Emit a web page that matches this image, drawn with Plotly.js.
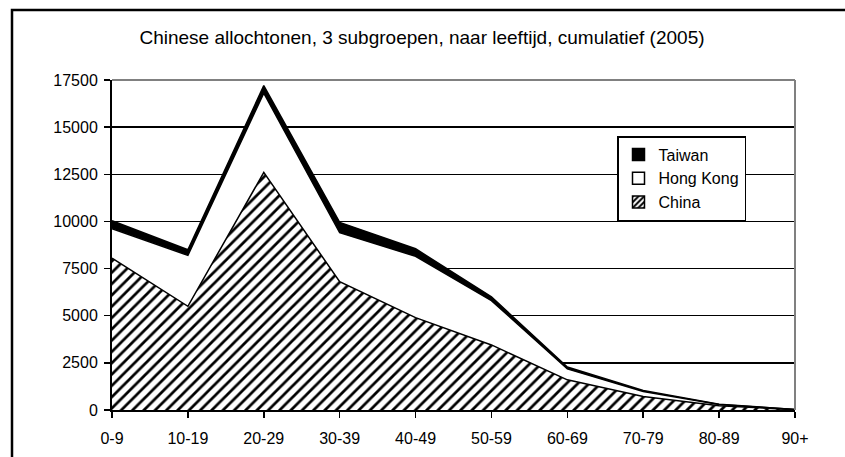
<!DOCTYPE html>
<html>
<head>
<meta charset="utf-8">
<script src="https://cdn.plot.ly/plotly-3.0.1.min.js"></script>
<style>html,body{margin:0;padding:0;background:#fff;}#chart{width:845px;height:457px;}</style>
</head>
<body>
<div id="chart"></div>
<script>
var categories = ["0-9","10-19","20-29","30-39","40-49","50-59","60-69","70-79","80-89","90+"];
var china    = [8050, 5500, 12600, 6800, 4900, 3450, 1600, 720, 230, 15];
var hongKong = [1570, 2700, 4200, 2600, 3250, 2350, 580, 260, 60, 10];
var taiwan   = [420, 300, 400, 550, 400, 200, 100, 60, 20, 5];
var yTicks = [0, 2500, 5000, 7500, 10000, 12500, 15000, 17500];
var titleText = "Chinese allochtonen, 3 subgroepen, naar leeftijd, cumulatief (2005)";

var FONT = "Liberation Sans, Arial, sans-serif";
var hatch = {shape: "/", fgcolor: "#000", bgcolor: "#fff", size: 8, solidity: 0.34};

var traces = [
  {x: categories, y: china, name: "China", type: "scatter", mode: "lines", stackgroup: "one",
   line: {color: "#000", width: 1.5}, fillcolor: "#fff", fillpattern: hatch, showlegend: false, hoverinfo: "skip"},
  {x: categories, y: hongKong, name: "Hong Kong", type: "scatter", mode: "lines", stackgroup: "one",
   line: {color: "#000", width: 1.5}, fillcolor: "#fff", showlegend: false, hoverinfo: "skip"},
  {x: categories, y: taiwan, name: "Taiwan", type: "scatter", mode: "lines", stackgroup: "one",
   line: {color: "#000", width: 1.5}, fillcolor: "#000", showlegend: false, hoverinfo: "skip"},
  // legend-only entries (top to bottom)
  {x: [categories[0]], y: [null], name: "Taiwan", type: "bar",
   marker: {color: "#000", line: {color: "#000", width: 1.5}}},
  {x: [categories[0]], y: [null], name: "Hong Kong", type: "bar",
   marker: {color: "#fff", line: {color: "#000", width: 1.5}}},
  {x: [categories[0]], y: [null], name: "China", type: "bar",
   marker: {color: "#fff", line: {color: "#000", width: 1.5}, pattern: {shape: "/", fgcolor: "#000", bgcolor: "#fff", size: 5, solidity: 0.5}}}
];

var layout = {
  width: 845, height: 457,
  paper_bgcolor: "#fff", plot_bgcolor: "#fff",
  margin: {l: 112, r: 50, t: 80, b: 47},
  font: {family: FONT, size: 16, color: "#000"},
  title: {text: titleText, font: {family: FONT, size: 19, color: "#000"}, x: 422/845, xref: "container", xanchor: "center", y: 1 - 37/457, yref: "container", yanchor: "middle"},
  showlegend: true,
  legend: {x: (617-112)/683, y: (410-136)/330, xanchor: "left", yanchor: "top",
    bgcolor: "#fff", bordercolor: "#000", borderwidth: 1.5,
    traceorder: "normal", tracegroupgap: 0,
    font: {family: FONT, size: 16, color: "#000"}},
  xaxis: {type: "category", range: [0, categories.length - 1], showgrid: false, zeroline: false,
    showline: true, linecolor: "#000", linewidth: 2, ticks: "outside", ticklen: 6, tickwidth: 1.5, tickcolor: "#000",
    ticklabelstandoff: 7, tickfont: {family: FONT, size: 16}, fixedrange: true},
  yaxis: {range: [0, 17500], tickvals: yTicks, ticktext: yTicks.map(String), showgrid: true, gridcolor: "#000", gridwidth: 1.5,
    zeroline: false, showline: true, linecolor: "#000", linewidth: 2, ticks: "outside", ticklen: 6, tickwidth: 1.5, tickcolor: "#000",
    ticklabelstandoff: 3, tickfont: {family: FONT, size: 16}, fixedrange: true},
  shapes: [
    {type: "line", xref: "paper", yref: "paper", x0: 0, x1: 1, y0: 1, y1: 1, line: {color: "#808080", width: 2}},
    {type: "line", xref: "paper", yref: "paper", x0: 1, x1: 1, y0: 0, y1: 1, line: {color: "#808080", width: 2}},
    {type: "rect", xref: "paper", yref: "paper", x0: (12-112)/683, x1: (850-112)/683, y0: (410-462)/330, y1: (410-10)/330,
     line: {color: "#000", width: 2.5}, fillcolor: "rgba(0,0,0,0)", layer: "above"}
  ]
};

Plotly.newPlot("chart", traces, layout, {displayModeBar: false, staticPlot: true});
</script>
</body>
</html>
